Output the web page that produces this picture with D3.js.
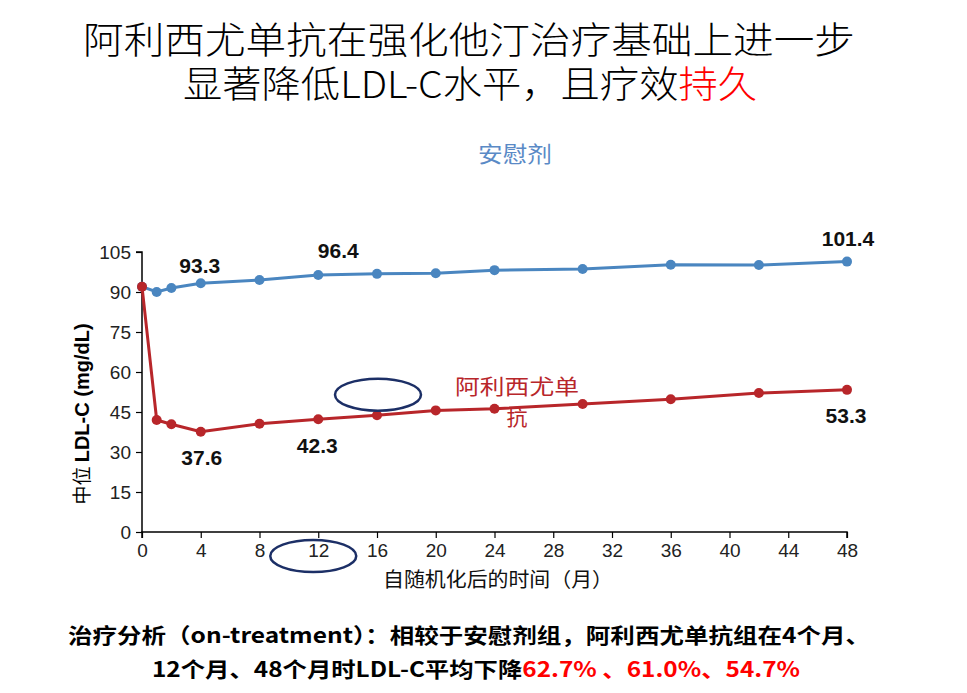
<!DOCTYPE html>
<html>
<head>
<meta charset="utf-8">
<script src="https://cdn.jsdelivr.net/npm/d3@7"></script>
<style>
  html, body { margin: 0; padding: 0; background: #fff; }
  svg { display: block; }
</style>
</head>
<body>
<script>
// ---- data ----
const months = [0, 1, 2, 4, 8, 12, 16, 20, 24, 30, 36, 42, 48];
const placebo = [92, 90, 91.5, 93.3, 94.5, 96.4, 96.8, 97.0, 98.2, 98.6, 100.2, 100.1, 101.4];
const alirocumab = [92, 42, 40.4, 37.6, 40.6, 42.3, 43.8, 45.6, 46.2, 48.0, 49.8, 52.1, 53.3];
const xTicks = [0, 4, 8, 12, 16, 20, 24, 28, 32, 36, 40, 44, 48];
const yTicks = [0, 15, 30, 45, 60, 75, 90, 105];
const placeboLabels = [4, 12, 48];      // months with value labels
const aliroLabels = [4, 12, 48];
const titleLine1 = "阿利西尤单抗在强化他汀治疗基础上进一步";
const titleLine2a = "显著降低LDL-C水平，且疗效";
const titleLine2b = "持久";
const seriesNames = ["安慰剂", "阿利西尤单", "抗"];
const xTitle = "自随机化后的时间（月）";
const footer1 = "治疗分析（on-treatment）：相较于安慰剂组，阿利西尤单抗组在4个月、";
const footer2a = "12个月、48个月时LDL-C平均下降";
const footer2b = "62.7% 、61.0%、54.7%";

const W = 967, H = 693;
const CJK = "'Noto Sans CJK SC', sans-serif";
const LAT = "'Liberation Sans', Arial, sans-serif";
const blue = "#4a86c0", red = "#b8262a", navy = "#1c2f66";

const svg = d3.select("body").append("svg").attr("width", W).attr("height", H);

const x = d3.scaleLinear().domain([0, 48]).range([142, 847]);
const y = d3.scaleLinear().domain([0, 105]).range([532, 252]);

// Title
svg.append("text").attr("x", 469).attr("y", 54).attr("text-anchor", "middle")
  .style("font-family", CJK).style("font-weight", 300).style("font-size", "37px")
  .attr("textLength", 772).attr("lengthAdjust", "spacingAndGlyphs")
  .text(titleLine1);
const t2 = svg.append("text").attr("x", 470).attr("y", 98).attr("text-anchor", "middle")
  .style("font-family", CJK).style("font-weight", 300).style("font-size", "37px")
  .attr("textLength", 574).attr("lengthAdjust", "spacingAndGlyphs");
t2.append("tspan").attr("fill", "#000").text(titleLine2a);
t2.append("tspan").attr("fill", "#ff0000").text(titleLine2b);

// Axes
const yAxis = d3.axisLeft(y).tickValues(yTicks).tickSize(6).tickPadding(5);
const xAxis = d3.axisBottom(x).tickValues(xTicks).tickSize(6).tickPadding(6);

const gy = svg.append("g").attr("transform", "translate(142,0)").call(yAxis);
const gx = svg.append("g").attr("transform", "translate(0,532)").call(xAxis);
[gx, gy].forEach(g => {
  g.select(".domain").attr("stroke", "#000").attr("stroke-width", 1.5);
  g.selectAll(".tick line").attr("stroke", "#000").attr("stroke-width", 1.2);
  g.selectAll(".tick text").style("font-family", LAT).style("font-size", "19px").attr("fill", "#222");
});
gy.select(".domain").attr("d", `M-6,${y(105)}H0V${y(0)}`);
gx.select(".domain").attr("d", `M${x(0)},6V0H${x(48)}V6`);

// Axis titles
const yt = svg.append("text")
  .attr("transform", `translate(89,414) rotate(-90)`)
  .attr("text-anchor", "middle").attr("fill", "#000");
yt.append("tspan").style("font-family", CJK).style("font-size", "19px").text("中位 ");
yt.append("tspan").style("font-family", LAT).style("font-weight", "bold").style("font-size", "20px").text("LDL-C (mg/dL)");

svg.append("text").attr("x", 498).attr("y", 587).attr("text-anchor", "middle")
  .style("font-family", CJK).style("font-size", "20px").attr("fill", "#111")
  .attr("textLength", 230).attr("lengthAdjust", "spacingAndGlyphs")
  .text(xTitle);

// Lines
const line = d3.line().x((d, i) => x(months[i])).y(d => y(d));
function drawSeries(vals, color) {
  svg.append("path").datum(vals).attr("d", line)
    .attr("fill", "none").attr("stroke", color).attr("stroke-width", 3);
  svg.append("g").selectAll("circle").data(vals).join("circle")
    .attr("cx", (d, i) => x(months[i])).attr("cy", d => y(d)).attr("r", 5)
    .attr("fill", color);
}
drawSeries(placebo, blue);
drawSeries(alirocumab, red);

// Value labels
function valLabel(m, vals, dx, dy) {
  const i = months.indexOf(m);
  svg.append("text").attr("x", x(m) + dx).attr("y", y(vals[i]) + dy)
    .attr("text-anchor", "middle")
    .style("font-family", LAT).style("font-weight", "bold").style("font-size", "21px")
    .attr("fill", "#111").text(vals[i].toFixed(1));
}
valLabel(placeboLabels[0], placebo, -1, -10);
valLabel(placeboLabels[1], placebo, 20, -17);
valLabel(placeboLabels[2], placebo, 1, -16);
valLabel(aliroLabels[0], alirocumab, 1, 33);
valLabel(aliroLabels[1], alirocumab, -1, 34);
valLabel(aliroLabels[2], alirocumab, -1, 33);

// Series names
svg.append("text").attr("x", 515).attr("y", 162).attr("text-anchor", "middle")
  .style("font-family", CJK).style("font-size", "22px").attr("fill", "#5a8ac6")
  .attr("textLength", 74).attr("lengthAdjust", "spacingAndGlyphs")
  .text(seriesNames[0]);
svg.append("text").attr("x", 517).attr("y", 394).attr("text-anchor", "middle")
  .style("font-family", CJK).style("font-size", "21px").attr("fill", red)
  .attr("textLength", 124).attr("lengthAdjust", "spacingAndGlyphs")
  .text(seriesNames[1]);
svg.append("text").attr("x", 517).attr("y", 425).attr("text-anchor", "middle")
  .style("font-family", CJK).style("font-size", "21px").attr("fill", red)
  .text(seriesNames[2]);

// Highlight ellipses
svg.append("ellipse").attr("cx", x(16) + 1).attr("cy", y(51.5)).attr("rx", 43).attr("ry", 16)
  .attr("fill", "none").attr("stroke", navy).attr("stroke-width", 2.5);
svg.append("ellipse").attr("cx", x(12) - 5).attr("cy", 556).attr("rx", 43).attr("ry", 16)
  .attr("fill", "none").attr("stroke", navy).attr("stroke-width", 2.5);

// Footer
svg.append("text").attr("x", 469).attr("y", 643).attr("text-anchor", "middle")
  .style("font-family", CJK).style("font-weight", "bold").style("font-size", "21px")
  .attr("textLength", 802).attr("lengthAdjust", "spacingAndGlyphs")
  .attr("fill", "#000").text(footer1);
const f2 = svg.append("text").attr("x", 476).attr("y", 677).attr("text-anchor", "middle")
  .style("font-family", CJK).style("font-weight", "bold").style("font-size", "21px")
  .attr("textLength", 648).attr("lengthAdjust", "spacingAndGlyphs");
f2.append("tspan").attr("fill", "#000").text(footer2a);
f2.append("tspan").attr("fill", "#ff0000").text(footer2b);
</script>
</body>
</html>
